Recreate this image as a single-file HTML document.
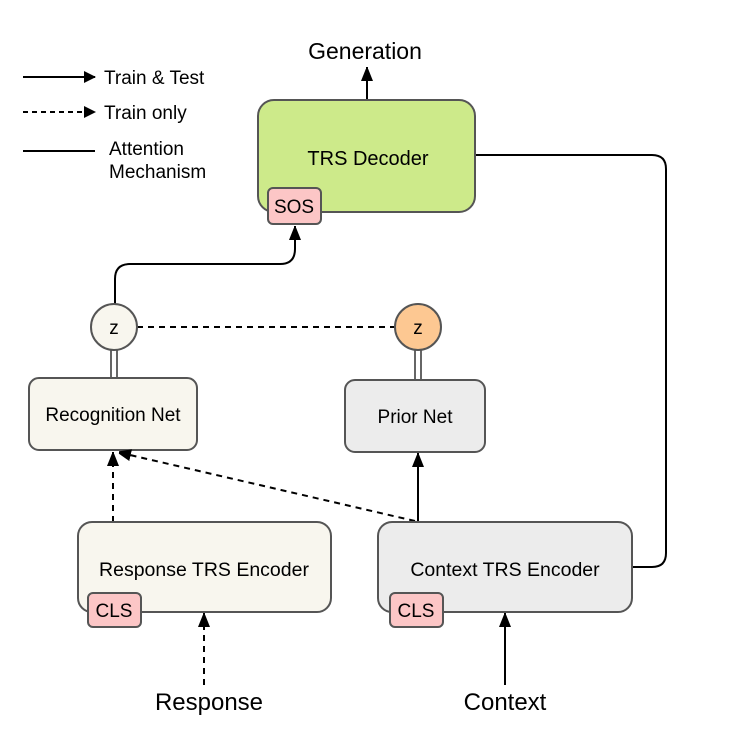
<!DOCTYPE html>
<html><head><style>
html,body{margin:0;padding:0;background:#fff}
svg text{font-family:"Liberation Sans",Arial,sans-serif;fill:#000}
</style></head><body>
<svg width="748" height="748" viewBox="0 0 748 748" xmlns="http://www.w3.org/2000/svg">
<defs>
<marker id="ah" markerWidth="12" markerHeight="12" refX="11" refY="6" orient="auto" markerUnits="userSpaceOnUse">
<path d="M0,0 L12,6 L0,12 Z" fill="#000"/></marker>
<marker id="av" markerWidth="12" markerHeight="16" refX="14" refY="6" orient="auto" markerUnits="userSpaceOnUse">
<path d="M0,0 L15,6 L0,12 Z" fill="#000"/></marker>
</defs>
<!-- legend -->
<line x1="23" y1="77" x2="95" y2="77" stroke="#000" stroke-width="2" marker-end="url(#ah)"/>
<line x1="23" y1="112" x2="95" y2="112" stroke="#000" stroke-width="2" stroke-dasharray="5,4" marker-end="url(#ah)"/>
<line x1="23" y1="151" x2="95" y2="151" stroke="#000" stroke-width="2"/>
<text x="104" y="84" font-size="19">Train &amp; Test</text>
<text x="104" y="119" font-size="19">Train only</text>
<text x="109" y="155" font-size="19">Attention</text>
<text x="109" y="178" font-size="19">Mechanism</text>

<!-- Generation -->
<text x="365" y="59" font-size="23" text-anchor="middle">Generation</text>
<line x1="367" y1="100" x2="367" y2="67" stroke="#000" stroke-width="2" marker-end="url(#av)"/>

<!-- attention line -->
<path d="M475,155 L652,155 Q666,155 666,169 L666,553 Q666,567 652,567 L632,567" fill="none" stroke="#000" stroke-width="2"/>

<!-- decoder -->
<rect x="258" y="100" width="217" height="112" rx="16" fill="#cdea8a" stroke="#555" stroke-width="2"/>
<text x="368" y="165" font-size="20" text-anchor="middle">TRS Decoder</text>
<rect x="268" y="188" width="53" height="36" rx="5" fill="#fcc6c6" stroke="#555" stroke-width="2"/>
<text x="294" y="213" font-size="19" text-anchor="middle">SOS</text>

<!-- z -> SOS -->
<path d="M115,304 L115,279 Q115,264 130,264 L280,264 Q295,264 295,249 L295,226" fill="none" stroke="#000" stroke-width="2" marker-end="url(#av)"/>

<!-- z dashed -->
<line x1="137" y1="327" x2="395" y2="327" stroke="#000" stroke-width="2" stroke-dasharray="6,5"/>

<!-- double lines -->
<line x1="111" y1="349" x2="111" y2="378" stroke="#333" stroke-width="1.5"/>
<line x1="117" y1="349" x2="117" y2="378" stroke="#333" stroke-width="1.5"/>
<line x1="415" y1="349" x2="415" y2="380" stroke="#333" stroke-width="1.5"/>
<line x1="421" y1="349" x2="421" y2="380" stroke="#333" stroke-width="1.5"/>

<circle cx="114" cy="327" r="23" fill="#f8f6ee" stroke="#555" stroke-width="2"/>
<text x="114" y="334" font-size="19" text-anchor="middle">z</text>
<circle cx="418" cy="327" r="23" fill="#fdc892" stroke="#555" stroke-width="2"/>
<text x="418" y="334" font-size="19" text-anchor="middle">z</text>

<!-- nets -->
<rect x="29" y="378" width="168" height="72" rx="10" fill="#f8f6ee" stroke="#555" stroke-width="2"/>
<text x="113" y="421" font-size="19" text-anchor="middle">Recognition Net</text>
<rect x="345" y="380" width="140" height="72" rx="10" fill="#ececec" stroke="#555" stroke-width="2"/>
<text x="415" y="423" font-size="19" text-anchor="middle">Prior Net</text>

<!-- arrows to nets -->
<line x1="113" y1="522" x2="113" y2="452" stroke="#000" stroke-width="2" stroke-dasharray="6,5" marker-end="url(#av)"/>
<line x1="415" y1="521" x2="117" y2="452" stroke="#000" stroke-width="2" stroke-dasharray="6,5" marker-end="url(#av)"/>
<line x1="418" y1="522" x2="418" y2="453" stroke="#000" stroke-width="2" marker-end="url(#av)"/>

<!-- encoders -->
<rect x="78" y="522" width="253" height="90" rx="14" fill="#f8f6ee" stroke="#555" stroke-width="2"/>
<text x="204" y="576" font-size="19.5" text-anchor="middle">Response TRS Encoder</text>
<rect x="88" y="593" width="53" height="34" rx="5" fill="#fcc6c6" stroke="#555" stroke-width="2"/>
<text x="114" y="617" font-size="19" text-anchor="middle">CLS</text>
<rect x="378" y="522" width="254" height="90" rx="14" fill="#ececec" stroke="#555" stroke-width="2"/>
<text x="505" y="576" font-size="19.5" text-anchor="middle">Context TRS Encoder</text>
<rect x="390" y="593" width="53" height="34" rx="5" fill="#fcc6c6" stroke="#555" stroke-width="2"/>
<text x="416" y="617" font-size="19" text-anchor="middle">CLS</text>

<!-- inputs -->
<line x1="204" y1="685" x2="204" y2="613" stroke="#000" stroke-width="2" stroke-dasharray="6,5" marker-end="url(#av)"/>
<line x1="505" y1="685" x2="505" y2="613" stroke="#000" stroke-width="2" marker-end="url(#av)"/>
<text x="209" y="710" font-size="24" text-anchor="middle">Response</text>
<text x="505" y="710" font-size="24" text-anchor="middle">Context</text>
</svg>
</body></html>
